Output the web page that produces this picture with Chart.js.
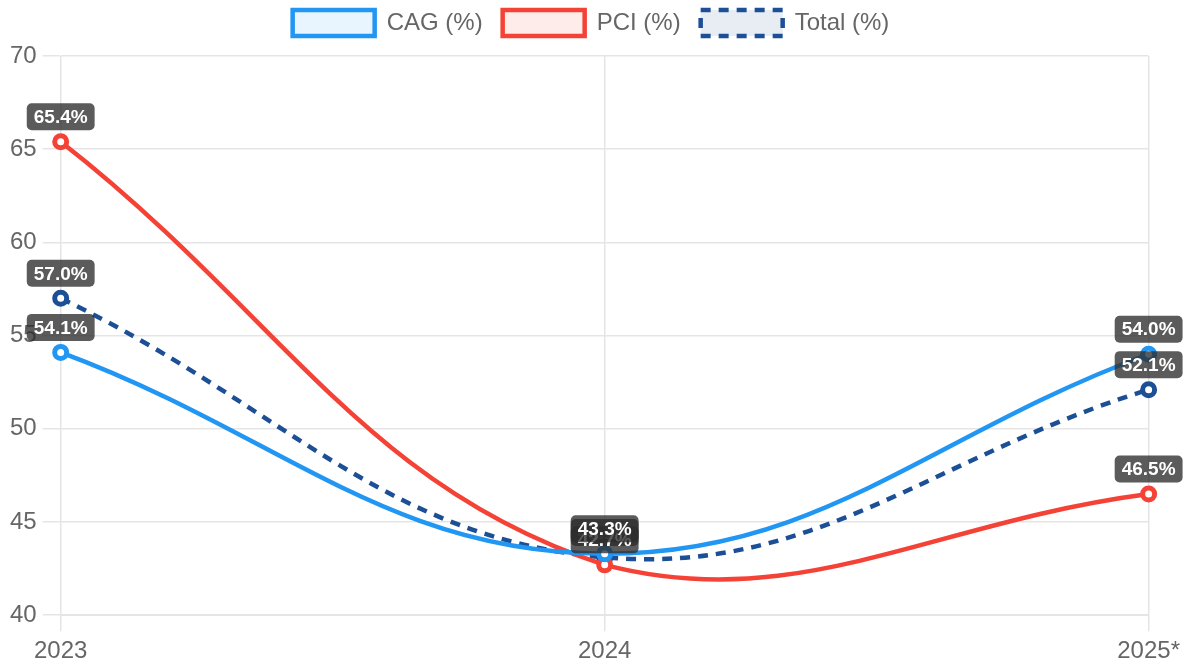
<!DOCTYPE html>
<html>
<head>
<meta charset="utf-8">
<script src="https://cdn.jsdelivr.net/npm/chart.js@4/dist/chart.umd.min.js"></script>
<style>
html,body{margin:0;padding:0;background:#fff;}
#wrap{width:1186px;height:668px;}
</style>
</head>
<body>
<div id="wrap"><canvas id="c" width="1186" height="668"></canvas></div>
<script>
const categories = ['2023', '2024', '2025*'];
const cagValues = [54.1, 43.3, 54.0];
const pciValues = [65.4, 42.7, 46.5];
const totalValues = [57.0, 43.1, 52.1];
const yTicks = [40, 45, 50, 55, 60, 65, 70];

const labelPlugin = {
  id: 'pointLabels',
  beforeUpdate(chart) {
    const lg = chart.legend;
    if (lg && !lg._extraPatched) {
      const origFit = lg.fit;
      lg.fit = function () {
        origFit.apply(this, arguments);
        this.height += 10;
      };
      lg._extraPatched = true;
    }
  },
  afterDatasetsDraw(chart) {
    const ctx = chart.ctx;
    const order = [2, 1, 0];
    ctx.save();
    ctx.font = 'bold 19px "Liberation Sans", Arial, sans-serif';
    ctx.textAlign = 'center';
    ctx.textBaseline = 'middle';
    order.forEach(di => {
      const meta = chart.getDatasetMeta(di);
      const ds = chart.data.datasets[di];
      meta.data.forEach((pt, i) => {
        const txt = ds.data[i].toFixed(1) + '%';
        const w = ctx.measureText(txt).width + 14;
        const h = 27;
        const cx = pt.x;
        const cy = pt.y - 25;
        ctx.fillStyle = 'rgba(45,45,45,0.78)';
        ctx.beginPath();
        ctx.roundRect(cx - w / 2, cy - h / 2, w, h, 5);
        ctx.fill();
        ctx.fillStyle = '#ffffff';
        ctx.fillText(txt, cx, cy + 1);
      });
    });
    ctx.restore();
  }
};

Chart.defaults.font.family = '"Liberation Sans", Arial, sans-serif';

function lineDs(label, data, color, fillColor, dash) {
  return {
    label: label,
    data: data,
    borderColor: color,
    backgroundColor: fillColor,
    borderWidth: 4.5,
    borderDash: dash,
    tension: 0.4,
    fill: false,
    pointRadius: 6,
    pointBorderWidth: 5,
    pointBackgroundColor: '#ffffff',
    pointBorderColor: color
  };
}

new Chart(document.getElementById('c'), {
  type: 'line',
  data: {
    labels: categories,
    datasets: [
      lineDs('CAG (%)', cagValues, '#2196F3', 'rgba(33,150,243,0.1)', []),
      lineDs('PCI (%)', pciValues, '#F44336', 'rgba(244,67,54,0.1)', []),
      lineDs('Total (%)', totalValues, '#1c4f96', 'rgba(28,79,150,0.1)', [10, 8])
    ]
  },
  options: {
    responsive: false,
    animation: false,
    layout: { padding: { left: 4, right: 8, top: -10, bottom: -4 } },
    plugins: {
      legend: {
        position: 'top',
        labels: {
          boxWidth: 82,
          boxHeight: 26,
          color: '#666',
          font: { size: 24 },
          padding: 20
        }
      },
      tooltip: { enabled: false }
    },
    scales: {
      x: {
        grid: { color: '#e5e5e5', lineWidth: 1.5, tickLength: 16 },
        ticks: { color: '#666', font: { size: 24 }, padding: 6 },
        border: { color: '#e5e5e5' }
      },
      y: {
        min: 40,
        max: 70,
        afterBuildTicks(axis) { axis.ticks = yTicks.map(v => ({ value: v })); },
        grid: { color: '#e5e5e5', lineWidth: 1.5, tickLength: 18 },
        ticks: { color: '#666', font: { size: 24 }, padding: 6 },
        border: { color: '#e5e5e5' }
      }
    }
  },
  plugins: [labelPlugin]
});
</script>
</body>
</html>
